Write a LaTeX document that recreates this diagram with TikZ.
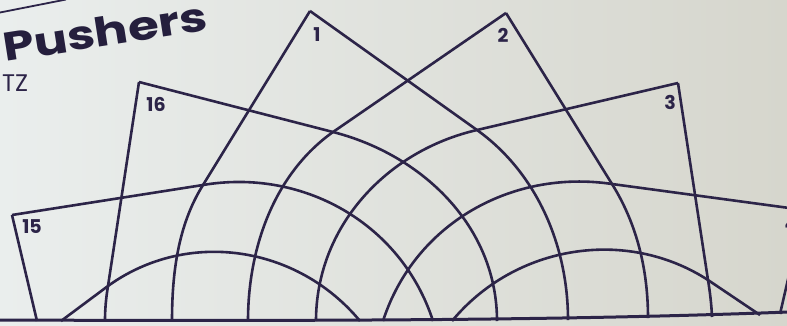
\documentclass[tikz,border=0pt]{standalone}
\usepackage{graphicx}
\usepackage{fontspec}
\newfontfamily\headfont{Poppins}
\definecolor{ink}{RGB}{44,36,72}
\definecolor{bgl}{RGB}{234,238,237}
\definecolor{bgr}{RGB}{214,214,205}

\begin{document}
\begin{tikzpicture}[x=1pt, y=-1pt, line join=round,
    edge/.style={draw=ink, line width=2.6pt},
    num/.style={font=\headfont\bfseries\fontsize{19}{19}\selectfont, text=ink, inner sep=0pt}]
  \useasboundingbox (0,0) rectangle (787,325);
  \clip (0,0) rectangle (787,325);
  \shade[left color=bgl, right color=bgr] (0,0) rectangle (787,325);
  % outer corners of the pushers
  \coordinate (a15) at (12,215);
  \coordinate (a16) at (139,82);
  \coordinate (a1) at (310,11);
  \coordinate (a2) at (506,13);
  \coordinate (a3) at (678,83);
  \coordinate (a4) at (804,210);
  % where the straight sides turn into arcs
  \coordinate (m1) at (203,185);
  \coordinate (m2) at (333,132);
  \coordinate (m3) at (477,130);
  \coordinate (m4) at (612,184);
  \coordinate (m5) at (108,286);
  \coordinate (m6) at (708,280);
  % sides
  \draw[edge] (a15) -- (37,321);
  \draw[edge] (a15) -- (m1) .. controls (303,168) and (401.5,223.5) .. (433,321);
  \draw[edge] (a16) -- (m5) .. controls (106,298) and (105,309) .. (105,321);
  \draw[edge] (a16) -- (m2) .. controls (423,155) and (497,227) .. (497,321);
  \draw[edge] (a1) -- (m1) .. controls (178,225) and (172,273) .. (172,321);
  \draw[edge] (a1) -- (m3) .. controls (537,173) and (568,246) .. (568,320);
  \draw[edge] (a2) -- (m2) .. controls (274,174) and (248,248) .. (248,321);
  \draw[edge] (a2) -- (m4) .. controls (637,224) and (648,270) .. (648,318);
  \draw[edge] (a3) -- (m3) .. controls (386,151) and (316,227) .. (316,321);
  \draw[edge] (a3) -- (m6) .. controls (710,292) and (711.5,305) .. (712,317);
  \draw[edge] (a4) -- (m4) .. controls (512,169) and (414.5,223.5) .. (383,321);
  \draw[edge] (a4) -- (780,314);
  \draw[edge] (61,321) -- (m5) .. controls (187,229) and (297,245) .. (360,321);
  \draw[edge] (760,315) -- (m6) .. controls (626,227) and (515,245) .. (452,321);
  % base line and page rule
  \draw[edge, line width=3pt] (-2,320) .. controls (400,321.5) and (600,319) .. (789,312);
  \draw[edge, line width=1.8pt] (-1,12.7) -- (66,-0.5);
  % labels
  \node[num] (n15) at (32,227) {15};
  \node[num] (n16) at (156,104) {16};
  \node[num] (n1) at (317,35) {1};
  \node[num] (n2) at (503,35) {2};
  \node[num] (n3) at (670,102) {3};
  \node[num] (n4) at (791,224) {4};
  \node[font=\headfont\bfseries\fontsize{40}{40}\selectfont, text=ink!85!black,
        anchor=base west, rotate=8.9, inner sep=0pt] (title) at (5,62) {\scalebox{1.25}[1]{Pushers}};
  \node[font=\headfont\fontsize{24}{24}\selectfont, text=ink, anchor=base west, inner sep=0pt] (tz) at (2,91) {TZ};
\end{tikzpicture}
\end{document}
